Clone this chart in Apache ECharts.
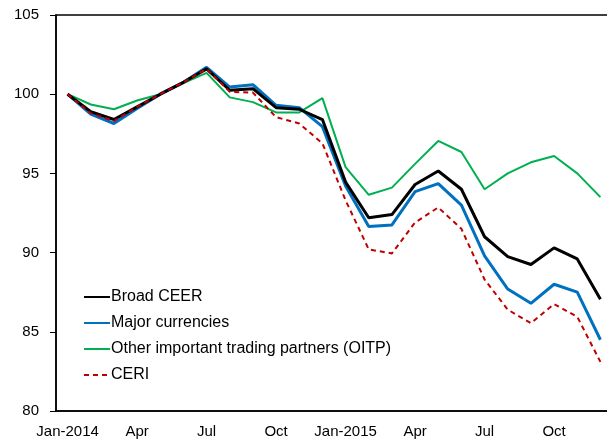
<!DOCTYPE html>
<html>
<head>
<meta charset="utf-8">
<script src="https://cdn.jsdelivr.net/npm/echarts@6/dist/echarts.min.js"></script>
<style>
  html, body { margin: 0; padding: 0; background: #fff; }
  #main { width: 607px; height: 442px; }
</style>
</head>
<body>
<div id="main"></div>
<script>
// months, Jan-2014 .. Dec-2015
var months = ['Jan-2014', 'Feb-2014', 'Mar-2014', 'Apr-2014', 'May-2014', 'Jun-2014',
  'Jul-2014', 'Aug-2014', 'Sep-2014', 'Oct-2014', 'Nov-2014', 'Dec-2014',
  'Jan-2015', 'Feb-2015', 'Mar-2015', 'Apr-2015', 'May-2015', 'Jun-2015',
  'Jul-2015', 'Aug-2015', 'Sep-2015', 'Oct-2015', 'Nov-2015', 'Dec-2015'];
var tickLabels = ['Jan-2014', '', '', 'Apr', '', '', 'Jul', '', '', 'Oct', '', '',
  'Jan-2015', '', '', 'Apr', '', '', 'Jul', '', '', 'Oct', '', ''];

var broadCEER = [100, 98.9, 98.4, 99.2, 100.0, 100.75, 101.6, 100.25, 100.35, 99.15, 99.05, 98.4,
  94.45, 92.2, 92.4, 94.3, 95.15, 94.0, 91.0, 89.75, 89.25, 90.3, 89.6, 87.05];
var majorCurrencies = [100, 98.75, 98.15, 99.1, 100.0, 100.75, 101.7, 100.45, 100.6, 99.3, 99.15, 97.95,
  94.2, 91.65, 91.75, 93.85, 94.35, 93.0, 89.8, 87.7, 86.8, 88.0, 87.5, 84.5];
var oitp = [100, 99.35, 99.05, 99.6, 100.0, 100.7, 101.35, 99.8, 99.5, 98.85, 98.85, 99.75,
  95.4, 93.65, 94.1, 95.6, 97.05, 96.35, 94.0, 95.0, 95.7, 96.1, 95.0, 93.5];
var ceri = [100, 98.8, 98.3, 99.2, 100.0, 100.75, 101.6, 100.15, 100.1, 98.55, 98.15, 96.9,
  93.3, 90.2, 89.95, 91.9, 92.85, 91.5, 88.3, 86.4, 85.55, 86.75, 85.95, 83.1];

var chart = echarts.init(document.getElementById('main'));

var txt = { color: '#000', fontFamily: 'Liberation Sans', fontSize: 15 };

var option = {
  animation: false,
  grid: {
    left: 56, top: 15, right: -5, bottom: 31,
    outerBoundsMode: 'none',
    show: true, borderColor: '#000', borderWidth: 1.5
  },
  legend: {
    orient: 'vertical',
    left: 78, top: 284,
    itemWidth: 26, itemHeight: 14, itemGap: 10,
    itemStyle: { opacity: 0 },
    textStyle: { color: '#000', fontFamily: 'Liberation Sans', fontSize: 16, padding: [0, 0, 0, -4] },
    data: ['Broad CEER', 'Major currencies', 'Other important trading partners (OITP)', 'CERI']
  },
  xAxis: {
    type: 'category',
    data: months,
    boundaryGap: true,
    axisLine: { lineStyle: { color: '#000', width: 1.5 } },
    axisTick: { inside: true, length: 5, interval: 0, lineStyle: { color: '#000', width: 1 } },
    axisLabel: Object.assign({
      interval: 0, margin: 13,
      formatter: function (v, i) { return tickLabels[i]; }
    }, txt),
    splitLine: { show: false }
  },
  yAxis: {
    type: 'value',
    min: 80, max: 105, interval: 5,
    axisLine: { show: true, lineStyle: { color: '#000', width: 1.5 } },
    axisTick: { show: true, length: 6, lineStyle: { color: '#000', width: 1 } },
    axisLabel: Object.assign({ margin: 17 }, txt),
    splitLine: { show: false }
  },
  series: [
    {
      name: 'Broad CEER', type: 'line', data: broadCEER, symbol: 'none', z: 4,
      lineStyle: { color: '#000000', width: 3 }, itemStyle: { color: '#000000' }
    },
    {
      name: 'Major currencies', type: 'line', data: majorCurrencies, symbol: 'none', z: 3,
      lineStyle: { color: '#0070C0', width: 3 }, itemStyle: { color: '#0070C0' }
    },
    {
      name: 'Other important trading partners (OITP)', type: 'line', data: oitp, symbol: 'none', z: 2,
      lineStyle: { color: '#00B050', width: 2 }, itemStyle: { color: '#00B050' }
    },
    {
      name: 'CERI', type: 'line', data: ceri, symbol: 'none', z: 5,
      lineStyle: { color: '#C00000', width: 2, type: [5, 4] }, itemStyle: { color: '#C00000' }
    }
  ]
};

chart.setOption(option);
</script>
</body>
</html>
